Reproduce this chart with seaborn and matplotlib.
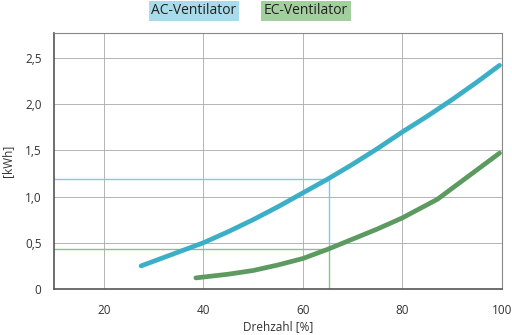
import matplotlib
matplotlib.use("Agg")
import matplotlib.pyplot as plt
import seaborn as sns
import pandas as pd

sns.set_theme(style="white")
plt.rcParams['font.family'] = ['Open Sans', 'DejaVu Sans']

ac_x = [27.5, 30, 35, 40, 45, 50, 55, 60, 65, 70, 75, 80, 85, 90, 95, 99.5]
ac_y = [0.25, 0.30, 0.40, 0.50, 0.62, 0.75, 0.89, 1.04, 1.19, 1.35, 1.52, 1.70, 1.87, 2.05, 2.24, 2.42]
ec_x = [38.5, 45, 50, 55, 60, 65, 70, 75, 80, 87, 93, 99.5]
ec_y = [0.12, 0.16, 0.20, 0.26, 0.33, 0.43, 0.54, 0.65, 0.77, 0.97, 1.21, 1.47]
ref_x = 65.3
ref_ac = 1.19
ref_ec = 0.43
xticks = [20, 40, 60, 80, 100]
yticks = [0, 0.5, 1.0, 1.5, 2.0, 2.5]
ytick_labels = ["0", "0,5", "1,0", "1,5", "2,0", "2,5"]

ac_col = "#3aafc6"
ec_col = "#5c9a60"

df = pd.concat([
    pd.DataFrame({"x": ac_x, "y": ac_y, "s": "AC-Ventilator"}),
    pd.DataFrame({"x": ec_x, "y": ec_y, "s": "EC-Ventilator"}),
])

fig = plt.figure(figsize=(5.12, 3.35), dpi=100)
ax = fig.add_axes([54/512, 1-289/335, 448/512, 256/335])

ax.set_xlim(10, 100)
ax.set_ylim(0, 2.77)

# reference lines
ax.plot([10, ref_x], [ref_ac, ref_ac], color="#7fcbe0", lw=1.0, zorder=2)
ax.plot([ref_x, ref_x], [ref_ec, ref_ac], color="#7fcbe0", lw=1.0, zorder=2)
ax.plot([10, ref_x], [ref_ec, ref_ec], color="#8cc08c", lw=1.0, zorder=2)
ax.plot([ref_x, ref_x], [0, ref_ec], color="#8cc08c", lw=1.0, zorder=2)

sns.lineplot(data=df, x="x", y="y", hue="s", palette=[ac_col, ec_col],
             linewidth=3.4, ax=ax, legend=False, zorder=3,
             solid_capstyle="round", solid_joinstyle="round")

ax.set_xticks(xticks)
ax.set_yticks(yticks)
ax.set_yticklabels(ytick_labels)
ax.grid(True, color="#a8a8a8", lw=0.6)
ax.tick_params(axis="both", length=6, width=1.5, color="#bbbbbb",
               labelsize=8.5, labelcolor="#333333", direction="out", pad=3)
ax.tick_params(axis="x", pad=5)
for side in ["top", "right"]:
    ax.spines[side].set_color("#888888")
    ax.spines[side].set_linewidth(0.8)
for side in ["left", "bottom"]:
    ax.spines[side].set_color("#555555")
    ax.spines[side].set_linewidth(1.2)

ax.set_xlabel("Drehzahl [%]", fontsize=8.5, color="#333333", labelpad=2)
ax.set_ylabel("[kWh]", fontsize=8.5, color="#333333", labelpad=8)

fig.text(194/512, 1-11/335, "AC-Ventilator", fontsize=10, color="#222222",
         ha="center", va="center",
         bbox=dict(boxstyle="square,pad=0.2", fc="#a9dcea", ec="none"))
fig.text(306/512, 1-11/335, "EC-Ventilator", fontsize=10, color="#222222",
         ha="center", va="center",
         bbox=dict(boxstyle="square,pad=0.2", fc="#a3cf9e", ec="none"))

fig.savefig("out.png", dpi=100)
